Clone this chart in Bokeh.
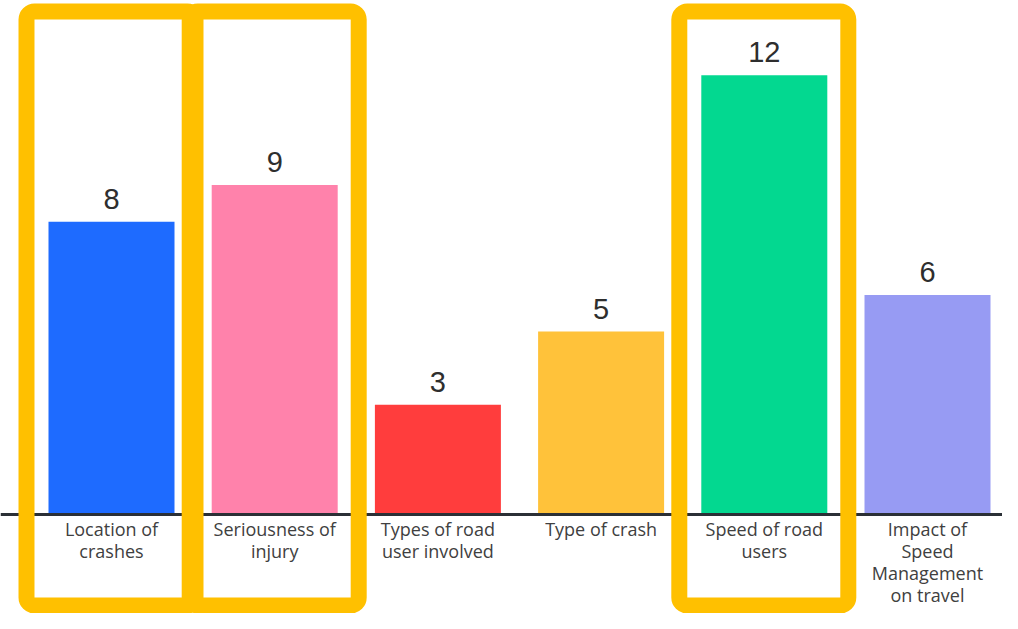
from bokeh.plotting import figure
from bokeh.models import Range1d
from bokeh.core.properties import value
from bokeh.embed import file_html
from bokeh.resources import INLINE

# ---- data ----
categories = ["Location of crashes", "Seriousness of injury", "Types of road user involved",
              "Type of crash", "Speed of road users", "Impact of Speed Management on travel"]
tick_labels = ["Location of\ncrashes", "Seriousness of\ninjury", "Types of road\nuser involved",
               "Type of crash", "Speed of road\nusers", "Impact of\nSpeed\nManagement\non travel"]
counts = [8, 9, 3, 5, 12, 6]
highlighted = ["Location of crashes", "Seriousness of injury", "Speed of road users"]

# ---- styles ----
bar_colors = ["#1E6BFF", "#FF82AB", "#FF3D3D", "#FFC23A", "#03D890", "#979BF3"]
FONT = value("Open Sans")

W, H = 1002, 613
PITCH = 163.2   # px per category
UNIT = 36.6     # px per count
X0 = 111        # px of first category centre
Y0 = 514        # px of baseline from top

x_start, x_end = -X0 / PITCH, (W - X0) / PITCH
y_start, y_end = -(H - Y0) / UNIT, Y0 / UNIT

p = figure(width=W, height=H, output_backend="svg", toolbar_location=None,
           x_axis_location=None, y_axis_location=None, min_border=0,
           x_range=Range1d(x_start, x_end), y_range=Range1d(y_start, y_end))
p.outline_line_color = None
p.grid.grid_line_color = None
p.background_fill_color = "white"
p.border_fill_color = "white"

idx = list(range(len(categories)))

p.vbar(x=idx, top=counts, bottom=0, width=126 / PITCH, fill_color=bar_colors, line_color=None)
p.hspan(y=[0], line_color="#2B3036", line_width=3)

p.text(x=idx, y=counts, text=[str(v) for v in counts], text_align="center",
       text_baseline="bottom", y_offset=-13, text_font_size="29px",
       text_color="#2E2E2E", text_font=value("Liberation Sans"))

p.text(x=idx, y=[0] * len(idx), text=tick_labels, text_align="center",
       text_baseline="top", y_offset=2, text_font_size="18px", text_line_height=0.92,
       text_color="#404040", text_font=FONT)

hi = [categories.index(c) for c in highlighted]
p.quad(left=[i - 85 / PITCH for i in hi], right=[i + 84 / PITCH for i in hi],
       top=[(Y0 - 11) / UNIT] * len(hi), bottom=[-(605 - Y0) / UNIT] * len(hi),
       fill_color=None, line_color="#FFC000", line_width=16, border_radius=8)

open("out.html", "w").write(file_html(p, INLINE))
